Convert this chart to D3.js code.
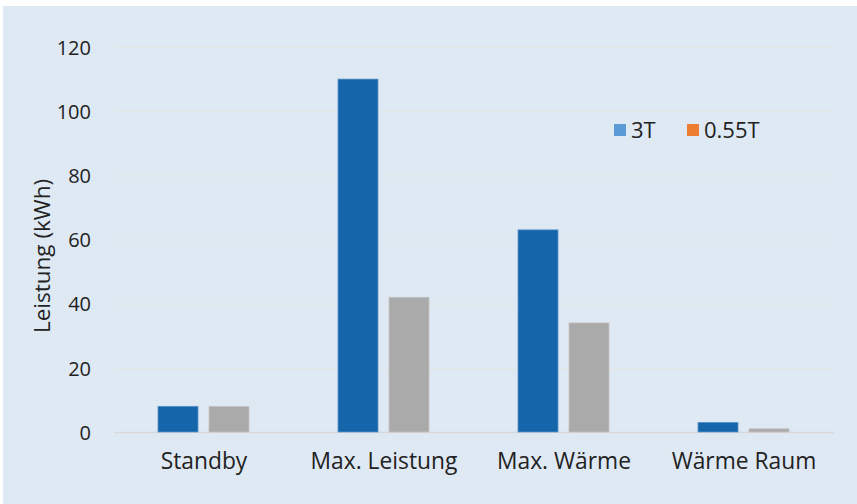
<!DOCTYPE html>
<html><head><meta charset="utf-8">
<script src="https://cdn.jsdelivr.net/npm/d3@7/dist/d3.min.js"></script>
<style>body{margin:0;background:#fff}svg{display:block}text{font-family:"Open Sans","Noto Sans",sans-serif;fill:#222}</style>
</head><body><svg id="c" width="857" height="504"></svg>
<script>
const categories = ["Standby", "Max. Leistung", "Max. Wärme", "Wärme Raum"];
const series3T = [8, 110, 63, 3];
const series055T = [8, 42, 34, 1];
const seriesNames = ["3T", "0.55T"];
const yTicks = [0, 20, 40, 60, 80, 100, 120];

const svg = d3.select("#c");
svg.append("rect").attr("x",3).attr("y",6).attr("width",854).attr("height",498).attr("fill","#dfe9f4");

const x = d3.scaleBand().domain(categories).range([114, 834]).paddingInner(0).paddingOuter(0);
const y = d3.scaleLinear().domain([0, 120]).range([432, 47]);
const inner = d3.scaleBand().domain([0,1]).range([44, 135]).paddingInner(11/51);

// gridlines
svg.append("g").selectAll("line").data(yTicks).join("line")
  .attr("x1",114).attr("x2",834).attr("y1",d=>y(d)+0.5).attr("y2",d=>y(d)+0.5)
  .attr("stroke",d=>d===0?"#d9d9d9":"#e4e4e4").attr("stroke-width",d=>d===0?1.5:1.2);

// y tick labels
const yAxis = d3.axisLeft(y).tickValues(yTicks).tickSize(0).tickPadding(0);
const gy = svg.append("g").attr("transform","translate(91,0)").call(yAxis);
gy.select(".domain").remove();
gy.selectAll("text").style("font-size","20px").attr("dy","0.36em").attr("fill","#222");

// x labels
const xAxis = d3.axisBottom(x).tickSize(0).tickPadding(0);
const gx = svg.append("g").attr("transform","translate(0,0)").call(xAxis);
gx.select(".domain").remove();
gx.selectAll("text").style("font-size","22.8px").attr("y",469).attr("dy",0).attr("fill","#222");

const colors = ["#1565ab", "#aaaaaa"];
const strokes = ["#5d93c8", "#c4c4c4"];
const data = [series3T, series055T];
data.forEach((vals,si)=>{
  svg.append("g").selectAll("rect").data(vals).join("rect")
    .attr("x",(d,i)=>x(categories[i])+inner(si))
    .attr("width",inner.bandwidth())
    .attr("y",d=>y(d))
    .attr("height",d=>y(0)-y(d))
    .attr("fill",colors[si]).attr("stroke",strokes[si]).attr("stroke-width",0.8);
});

// y title
svg.append("text").attr("transform","translate(50,256) rotate(-90)")
  .attr("text-anchor","middle").style("font-size","22.5px").text("Leistung (kWh)");

// legend (as in the reference)
const legendColors = ["#5b9bd5", "#ed7d31"];
const lx = [614, 687];
seriesNames.forEach((n,i)=>{
  svg.append("rect").attr("x",lx[i]).attr("y",124).attr("width",12).attr("height",12).attr("fill",legendColors[i]);
  svg.append("text").attr("x",lx[i]+17).attr("y",137.5).style("font-size","22px").text(n);
});
</script></body></html>
